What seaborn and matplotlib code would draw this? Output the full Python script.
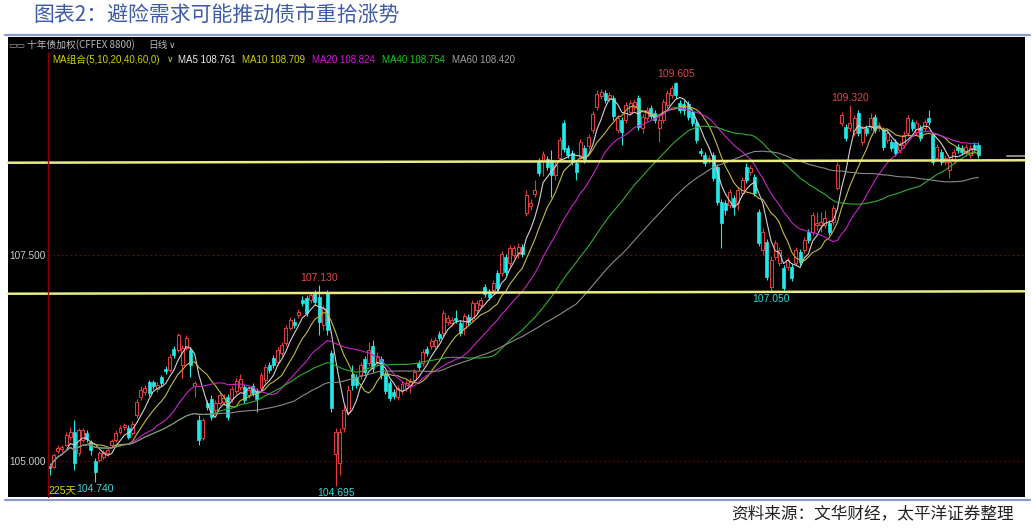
import numpy as np
import pandas as pd
import matplotlib
matplotlib.use("Agg")
import matplotlib.pyplot as plt
from matplotlib.patches import Rectangle
from matplotlib.lines import Line2D
import seaborn as sns

# ---------------- data (10-year T-bond futures index, daily) ----------------
opens = [
    104.94,104.93,105.12,105.15,105.20,105.29,105.35,105.10,105.26,105.34,
    105.23,105.00,105.01,105.05,105.10,105.19,105.25,105.35,105.41,105.40,
    105.34,105.56,105.78,105.84,105.96,105.96,105.87,106.02,106.12,106.10,
    106.36,106.35,106.17,106.37,106.35,105.91,105.50,105.28,105.70,105.75,
    105.62,105.70,105.72,105.78,105.75,105.85,105.90,105.90,105.80,105.91,
    105.85,105.89,105.98,106.17,106.25,106.20,106.31,106.43,106.62,106.69,
    106.77,106.96,106.98,106.95,107.04,106.99,106.65,107.04,106.31,105.09,
    104.97,105.40,105.60,106.06,106.02,106.04,106.24,106.19,106.40,106.19,
    106.24,106.06,105.95,105.84,105.78,105.85,105.89,105.92,105.98,106.19,
    106.19,106.36,106.40,106.40,106.54,106.55,106.69,106.68,106.74,106.67,
    106.61,106.75,106.74,106.83,106.89,107.11,107.05,107.08,107.28,107.28,
    107.48,107.40,107.50,107.54,107.60,108.01,108.10,108.24,108.64,108.64,
    108.67,108.65,108.47,108.68,109.10,108.80,108.74,108.62,108.69,108.80,
    108.82,109.02,109.30,109.43,109.47,109.41,109.40,109.02,109.14,109.14,
    109.24,109.30,109.41,109.04,109.16,109.28,109.22,109.04,109.14,109.32,
    109.44,109.59,109.35,109.33,109.33,109.24,109.10,108.76,108.71,108.66,
    108.71,108.57,108.14,108.13,108.11,108.19,108.13,108.25,108.57,108.51,
    108.45,108.02,107.56,107.66,107.11,107.48,107.40,107.34,107.36,107.35,
    107.40,107.54,107.56,107.78,107.78,107.86,107.87,107.86,107.89,107.90,
    108.31,109.10,109.05,109.04,108.98,109.22,108.87,109.04,109.05,109.17,
    109.04,109.02,108.90,108.87,108.87,108.77,108.84,108.98,109.11,108.99,
    109.04,109.04,109.16,108.96,108.68,108.75,108.63,108.53,108.65,108.81,
    108.80,108.74,108.71,108.84,108.84]
closes = [
    104.92,105.07,105.16,105.17,105.31,105.35,104.98,105.38,105.38,105.27,
    105.13,104.87,105.10,105.11,105.13,105.24,105.34,105.40,105.44,105.29,
    105.45,105.72,105.86,105.89,105.83,105.91,105.92,105.95,106.09,106.26,
    106.29,106.53,106.37,106.49,106.17,105.95,105.26,105.50,105.66,105.53,
    105.70,105.80,105.77,105.53,105.87,105.97,106.00,105.74,105.86,105.83,
    105.75,106.04,106.14,106.10,106.17,106.35,106.41,106.61,106.71,106.65,
    106.81,106.92,106.80,107.01,106.93,106.69,106.86,106.59,105.64,105.35,
    105.35,105.62,105.86,105.92,105.92,106.17,106.08,106.35,106.13,106.27,
    106.04,105.85,105.77,105.79,105.89,105.93,105.95,105.97,106.08,106.14,
    106.32,106.31,106.46,106.47,106.49,106.80,106.74,106.71,106.71,106.55,
    106.76,106.69,106.92,106.92,106.95,107.03,106.99,107.16,107.10,107.51,
    107.29,107.59,107.59,107.60,107.51,108.23,108.13,108.29,108.50,108.73,
    108.57,108.47,108.59,108.90,108.79,108.71,108.63,108.51,108.87,108.65,
    108.93,109.21,109.45,109.48,109.38,109.44,109.19,109.16,108.99,109.32,
    109.34,109.36,109.05,109.18,109.26,109.19,109.14,109.14,109.36,109.47,
    109.53,109.44,109.26,109.26,109.18,109.10,108.90,108.74,108.62,108.68,
    108.43,108.14,107.89,108.05,108.27,108.08,108.29,108.41,108.41,108.56,
    108.25,107.65,107.78,107.23,107.44,107.65,107.56,107.10,107.44,107.22,
    107.56,107.42,107.68,107.68,107.99,107.89,107.90,107.95,107.78,108.07,
    108.59,109.20,108.92,109.10,109.16,108.98,109.04,108.98,109.16,109.02,
    109.08,108.81,108.98,108.80,108.74,108.84,108.96,109.16,109.04,109.10,
    108.92,109.11,109.11,108.63,108.81,108.63,108.68,108.63,108.75,108.77,
    108.75,108.81,108.80,108.80,108.71]
highs = [
    104.97,105.10,105.19,105.20,105.35,105.41,105.50,105.40,105.40,105.38,
    105.26,105.04,105.12,105.13,105.16,105.27,105.38,105.44,105.46,105.44,
    105.49,105.75,105.91,105.92,105.98,105.98,105.96,106.04,106.15,106.30,
    106.40,106.55,106.41,106.53,106.38,105.97,105.56,105.52,105.74,105.80,
    105.74,105.84,105.81,105.81,105.91,106.01,106.06,105.94,105.90,105.95,
    105.89,106.08,106.18,106.20,106.29,106.38,106.45,106.65,106.75,106.74,
    106.85,107.00,107.01,107.05,107.08,107.13,106.89,107.08,106.35,105.40,
    105.40,105.68,105.92,106.17,106.06,106.20,106.27,106.45,106.47,106.32,
    106.27,106.09,105.98,105.87,105.92,105.97,105.98,106.01,106.12,106.23,
    106.36,106.40,106.49,106.51,106.58,106.83,106.77,106.75,106.83,106.71,
    106.80,106.78,106.95,106.95,106.99,107.15,107.09,107.20,107.32,107.55,
    107.51,107.62,107.62,107.65,107.63,108.29,108.18,108.41,108.68,108.76,
    108.70,108.77,108.65,108.93,109.14,108.84,108.77,108.65,108.91,108.84,
    108.97,109.25,109.50,109.52,109.50,109.48,109.44,109.20,109.18,109.36,
    109.38,109.39,109.44,109.21,109.30,109.32,109.26,109.17,109.39,109.50,
    109.56,109.605,109.38,109.38,109.37,109.27,109.14,108.80,108.75,108.71,
    108.75,108.61,108.18,108.17,108.30,108.23,108.33,108.45,108.62,108.59,
    108.48,108.06,107.83,107.69,107.49,107.68,107.60,107.38,107.48,107.39,
    107.60,107.57,107.72,107.81,108.02,108.02,108.02,108.05,107.93,108.11,
    108.63,109.24,109.09,109.32,109.20,109.26,109.08,109.08,109.22,109.21,
    109.11,109.05,109.02,108.91,108.91,108.87,109.00,109.20,109.15,109.14,
    109.08,109.15,109.26,108.99,108.85,108.79,108.71,108.66,108.79,108.85,
    108.83,108.85,108.83,108.87,108.87]
lows = [
    104.83,104.92,105.10,105.11,105.18,105.25,104.89,105.06,105.23,105.23,
    105.07,104.74,104.99,105.02,105.06,105.17,105.23,105.33,105.38,105.27,
    105.32,105.52,105.74,105.80,105.79,105.87,105.84,105.91,106.06,106.08,
    106.25,106.32,106.01,106.35,106.02,105.78,105.19,105.26,105.62,105.50,
    105.58,105.68,105.68,105.50,105.72,105.81,105.86,105.70,105.77,105.79,
    105.60,105.85,105.95,106.07,106.13,106.17,106.27,106.40,106.59,106.61,
    106.74,106.88,106.76,106.92,106.89,106.53,106.59,106.53,105.60,104.695,
    104.83,105.35,105.56,105.86,105.88,106.00,106.04,106.15,106.08,106.15,
    106.00,105.81,105.73,105.75,105.74,105.81,105.85,105.83,105.95,106.10,
    106.15,106.27,106.36,106.36,106.46,106.52,106.65,106.64,106.68,106.52,
    106.53,106.65,106.70,106.80,106.86,106.99,106.95,107.04,107.06,107.25,
    107.26,107.37,107.46,107.46,107.48,107.97,108.05,108.20,108.46,108.46,
    108.53,108.20,108.41,108.64,108.75,108.68,108.59,108.41,108.65,108.62,
    108.79,108.98,109.26,109.39,109.35,109.37,109.14,108.98,108.84,109.10,
    109.20,109.26,109.02,108.98,109.13,109.15,109.10,108.87,109.10,109.28,
    109.41,109.41,109.22,109.20,109.14,109.07,108.86,108.70,108.58,108.62,
    108.40,108.11,107.59,107.99,108.07,107.99,108.05,108.22,108.37,108.47,
    108.22,107.61,107.50,107.20,107.05,107.44,107.37,107.07,107.32,107.18,
    107.37,107.38,107.52,107.64,107.74,107.80,107.78,107.83,107.74,107.86,
    108.29,109.07,108.88,109.00,108.94,108.94,108.83,108.94,109.02,108.98,
    109.00,108.77,108.86,108.76,108.70,108.74,108.80,108.94,109.00,108.96,
    108.88,109.00,109.08,108.59,108.64,108.59,108.59,108.43,108.62,108.74,
    108.71,108.70,108.68,108.76,108.68]

ma_periods = [5, 10, 20, 40, 60]
ma_header_values = [108.761, 108.709, 108.824, 108.754, 108.420]
ytick_values = [105.0, 107.5]
upper_line = [108.62, 108.65]   # drawn resistance line (left, right)
lower_line = [107.03, 107.06]   # drawn support line (left, right)
last_price_marker = 108.70
high_marks = [65, 151, 193]
low_marks = [11, 69, 174]

title = "图表2：避险需求可能推动债市重拾涨势"
source = "资料来源：文华财经，太平洋证券整理"

# ---------------- figure ----------------
W, H = 1032, 528
fig = plt.figure(figsize=(W / 100, H / 100), dpi=100)
fig.patch.set_facecolor("white")
sns.set_style("dark")
plt.rcParams["font.family"] = ["Liberation Sans", "Noto Sans CJK SC", "DejaVu Sans"]
CJK = ["Noto Sans CJK SC", "DejaVu Sans"]


def fx(px):
    return px / W


def fy(py):
    return 1 - py / H


# black panel
fig.patches.append(Rectangle((fx(8), fy(497)), fx(1025) - fx(8), fy(37) - fy(497),
                             transform=fig.transFigure, facecolor="black",
                             edgecolor="none", zorder=-5))
# blue rules
for yy in (34.5, 500):
    fig.add_artist(Line2D([fx(5), fx(1030)], [fy(yy), fy(yy)], color="#8d9bcc", lw=1.6))

ax = fig.add_axes([fx(48), fy(497), fx(1025) - fx(48), fy(37) - fy(497)])
ax.set_facecolor("black")
for s in ax.spines.values():
    s.set_visible(False)

n = len(closes)
idx = np.arange(n)
o = np.array(opens)
c = np.array(closes)
h = np.array(highs)
l = np.array(lows)
up = c >= o

x0 = (48 - 49.5) / 4.147
x1 = (1025 - 49.5) / 4.147
ax.set_xlim(x0, x1)
ax.set_ylim(104.563, 110.146)

RED = "#e23a3a"
CYAN = "#22e8e8"

# wicks
ax.vlines(idx[up], l[up], h[up], color=RED, lw=0.8, zorder=2)
ax.vlines(idx[~up], l[~up], h[~up], color=CYAN, lw=0.8, zorder=2)
# bodies
bw = 0.72
bot = np.minimum(o, c)
hgt = np.maximum(np.abs(c - o), 0.012)
ax.bar(idx[up], hgt[up], bottom=bot[up], width=bw, facecolor="black",
       edgecolor=RED, linewidth=0.75, zorder=3)
ax.bar(idx[~up], hgt[~up], bottom=bot[~up], width=bw, facecolor=CYAN,
       edgecolor=CYAN, linewidth=0.5, zorder=3)

# moving averages via seaborn
cs = pd.Series(c)
long = pd.concat([
    pd.DataFrame({"idx": idx, "value": cs.rolling(p, min_periods=1).mean(), "ma": f"MA{p}"})
    for p in ma_periods
])
line_colors = {"MA5": "#d0d0d0", "MA10": "#c2bb3c", "MA20": "#cc22cc",
               "MA40": "#2fae2f", "MA60": "#8a8a8a"}
sns.lineplot(data=long, x="idx", y="value", hue="ma", palette=line_colors,
             estimator=None, sort=False, lw=0.8, legend=False, ax=ax, zorder=4)
ax.set_xlabel("")
ax.set_ylabel("")

# drawn horizontal lines
ax.plot([(8 - 49.5) / 4.147, x1], upper_line, color="#ecec86", lw=1.8, zorder=5, clip_on=False)
ax.plot([(8 - 49.5) / 4.147, x1], lower_line, color="#ecec86", lw=1.8, zorder=5, clip_on=False)
ax.plot([231.0, x1], [last_price_marker] * 2, color="#8a8a8a", lw=1.4, zorder=5)

# grid-like dotted levels
for v in ytick_values:
    ax.axhline(v, color="#6e0a0a", lw=0.8, ls=(0, (1.5, 2.5)), zorder=1)

ax.set_xticks([])
ax.set_yticks(ytick_values)
ax.set_yticklabels([f"{v:.3f}" for v in ytick_values])
ax.tick_params(axis="y", length=0, pad=1.5, labelcolor="#cfcfcf", labelsize=7.2)
ax.grid(False)

# extreme labels
for i in high_marks:
    ax.annotate(f"{h[i]:.3f}", (i, h[i]), xytext=(0, 1.5), textcoords="offset points",
                ha="center", va="bottom", color="#e04848", fontsize=7.5,
                annotation_clip=False, zorder=6)
for i in low_marks:
    ax.annotate(f"{l[i]:.3f}", (i, l[i]), xytext=(0, -1.5), textcoords="offset points",
                ha="center", va="top", color="#3ad8d8", fontsize=7.5,
                annotation_clip=False, zorder=6)

# left red divider
fig.add_artist(Line2D([fx(47.5), fx(47.5)], [fy(52), fy(497)], color="#8a0000", lw=0.9))

# header rows
fig.text(fx(8), fy(45), "▭▭", color="#9a9a9a", fontsize=6.5, va="center", family=CJK)
fig.text(fx(27), fy(45), "十年债加权(CFFEX 8800)", color="#b8b8b8", fontsize=7,
         va="center", family=CJK)
fig.text(fx(148), fy(45), "日线", color="#b8b8b8", fontsize=7, va="center", family=CJK)
fig.text(fx(169), fy(45), "∨", color="#b8b8b8", fontsize=6.5, va="center", family=["DejaVu Sans"])

fig.text(fx(52), fy(60), "MA组合(5,10,20,40,60,0)", color="#d2d200", fontsize=7,
         va="center", family=["Liberation Sans", "Noto Sans CJK SC"])
fig.text(fx(167), fy(60), "∨", color="#d2d200", fontsize=6.5, va="center", family=["DejaVu Sans"])
header_x = [178, 242, 312, 382, 452]
header_colors = ["#ececec", "#d2d200", "#e010e0", "#10d010", "#a0a0a0"]
for p, val, xx, col in zip(ma_periods, ma_header_values, header_x, header_colors):
    fig.text(fx(xx), fy(60), f"MA{p} {val:.3f}", color=col, fontsize=7, va="center")

fig.text(fx(48), fy(490), f"{n}天", color="#d8d800", fontsize=7.5, va="center",
         family=["Liberation Sans", "Noto Sans CJK SC"])

# title and source
fig.text(fx(33), fy(16), title, color="#3d5ba6", fontsize=15, va="center", family=CJK)
fig.text(fx(1014), fy(514), source, color="#222222", fontsize=12, va="center",
         ha="right", family=CJK, style="italic")

fig.savefig("out.png", dpi=100, facecolor="white")
